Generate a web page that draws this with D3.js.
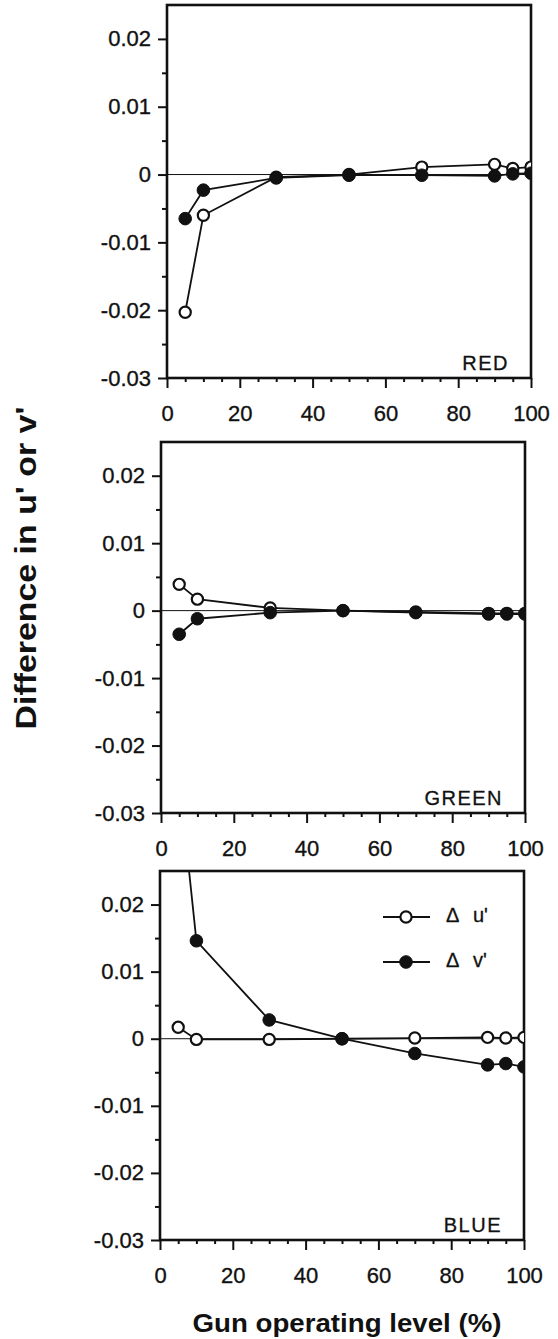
<!DOCTYPE html>
<html>
<head>
<meta charset="utf-8">
<script src="https://cdn.jsdelivr.net/npm/d3@7"></script>
<style>
  html, body { margin: 0; padding: 0; background: #fff; }
  svg { display: block; }
  text { font-family: "Liberation Sans", Arial, Helvetica, sans-serif; fill: #111; }
</style>
</head>
<body>
<svg id="chart" width="558" height="1339"></svg>
<script>
// Gun operating levels (%) at which chromaticity was measured
const levels = [5, 10, 30, 50, 70, 90, 95, 100];

// Difference in u' (open circles) and v' (filled circles) for each gun
const redDeltaU   = [-0.0203, -0.0060, -0.0004, 0.0000, 0.0011, 0.0015, 0.0009, 0.0011];
const redDeltaV   = [-0.0065, -0.0023, -0.0005, -0.0001, -0.0001, -0.0002, 0.0001, 0.0002];
const greenDeltaU = [0.0039, 0.0017, 0.0004, 0.0000, -0.0002, -0.0004, -0.0004, -0.0004];
const greenDeltaV = [-0.0035, -0.0012, -0.0003, 0.0000, -0.0003, -0.0005, -0.0005, -0.0005];
const blueDeltaU  = [0.0017, -0.0001, -0.0001, 0.0000, 0.0001, 0.0002, 0.0001, 0.0002];
const blueDeltaV  = [0.0404, 0.0146, 0.0028, 0.0000, -0.0022, -0.0039, -0.0037, -0.0042];

const panelNames  = ["RED", "GREEN", "BLUE"];
const seriesNames = ["\u0394", "\u0394"];
const seriesPrimes = ["u'", "v'"];

const xTicks = [0, 20, 40, 60, 80, 100];
const xMinorTicks = [5, 10, 15, 25, 30, 35, 45, 50, 55, 65, 70, 75, 85, 90, 95];
const yTicks = [0.02, 0.01, 0, -0.01, -0.02, -0.03];
const yTickLabels = ["0.02", "0.01", "0", "-0.01", "-0.02", "-0.03"];
const yMinorTicks = [0.015, 0.005, -0.005, -0.015, -0.025];
const yDomain = [-0.03, 0.025];

const yTitle = "Difference in u' or v'";
const xTitle = "Gun operating level (%)";

// Panel frames on the page
const frames = [
  { left: 167, right: 531, top: 5,   bottom: 378 },
  { left: 161, right: 525, top: 442, bottom: 813 },
  { left: 160, right: 524, top: 871, bottom: 1240 }
];

const panelData = [
  [redDeltaU, redDeltaV],
  [greenDeltaU, greenDeltaV],
  [blueDeltaU, blueDeltaV]
];

const svg = d3.select("#chart");

panelData.forEach((series, pi) => {
  const f = frames[pi];
  const x = d3.scaleLinear().domain([0, 100]).range([f.left, f.right]);
  const y = d3.scaleLinear().domain(yDomain).range([f.bottom, f.top]);
  const g = svg.append("g").attr("class", "panel");

  const clipId = "clip" + pi;
  svg.append("clipPath").attr("id", clipId)
    .append("rect")
    .attr("x", f.left).attr("y", f.top)
    .attr("width", f.right - f.left).attr("height", f.bottom - f.top);

  // zero reference line
  g.append("line")
    .attr("x1", x(0)).attr("x2", x(100))
    .attr("y1", y(0)).attr("y2", y(0))
    .attr("stroke", "#111").attr("stroke-width", 1);

  // y axis: major and minor ticks
  const yAxis = d3.axisLeft(y).tickValues(yTicks)
    .tickFormat((d, i) => yTickLabels[i]).tickSize(9).tickPadding(7);
  const ya = g.append("g").attr("transform", `translate(${f.left},0)`).call(yAxis);
  const yMinor = g.append("g").attr("transform", `translate(${f.left},0)`)
    .call(d3.axisLeft(y).tickValues(yMinorTicks).tickSize(5).tickFormat(""));

  // x axis: major and minor ticks
  const xAxis = d3.axisBottom(x).tickValues(xTicks).tickSize(10).tickPadding(17);
  const xa = g.append("g").attr("transform", `translate(0,${f.bottom})`).call(xAxis);
  const xMinor = g.append("g").attr("transform", `translate(0,${f.bottom})`)
    .call(d3.axisBottom(x).tickValues(xMinorTicks).tickSize(4).tickFormat(""));

  [ya, yMinor, xa, xMinor].forEach(a => {
    a.select(".domain").remove();
    a.selectAll(".tick line").attr("stroke", "#111").attr("stroke-width", 2);
    a.selectAll(".tick text")
      .attr("font-family", "Liberation Sans, Arial, sans-serif")
      .attr("font-size", 22).attr("fill", "#111")
      .attr("stroke", "#111").attr("stroke-width", 0.35);
  });

  // frame
  g.append("rect")
    .attr("x", f.left).attr("y", f.top)
    .attr("width", f.right - f.left).attr("height", f.bottom - f.top)
    .attr("fill", "none").attr("stroke", "#111").attr("stroke-width", 2.6);

  // data: open circles for u', filled for v'
  const line = d3.line().x((d, i) => x(levels[i])).y(d => y(d));
  const plot = g.append("g").attr("clip-path", `url(#${clipId})`);
  series.forEach((vals, si) => {
    plot.append("path")
      .datum(vals)
      .attr("d", line)
      .attr("fill", "none").attr("stroke", "#111").attr("stroke-width", 1.8);
    plot.selectAll(null)
      .data(vals)
      .join("circle")
      .attr("cx", (d, i) => x(levels[i]))
      .attr("cy", d => y(d))
      .attr("r", si === 0 ? 5.6 : 6.3)
      .attr("fill", si === 0 ? "#fff" : "#111")
      .attr("stroke", "#111").attr("stroke-width", si === 0 ? 2.2 : 1);
  });

  // panel name
  g.append("text")
    .attr("x", f.right - 22).attr("y", f.bottom - 8)
    .attr("text-anchor", "end")
    .attr("font-size", 20).attr("letter-spacing", 1.5)
    .attr("stroke", "#111").attr("stroke-width", 0.3)
    .text(panelNames[pi]);

  // legend in the last panel
  if (pi === 2) {
    seriesNames.forEach((name, si) => {
      const ly = f.top + 46 + si * 45;
      const lg = g.append("g");
      lg.append("line")
        .attr("x1", f.right - 141).attr("x2", f.right - 94)
        .attr("y1", ly).attr("y2", ly)
        .attr("stroke", "#111").attr("stroke-width", 2);
      lg.append("circle")
        .attr("cx", f.right - 118).attr("cy", ly)
        .attr("r", si === 0 ? 5.6 : 6.3)
        .attr("fill", si === 0 ? "#fff" : "#111")
        .attr("stroke", "#111").attr("stroke-width", si === 0 ? 2.2 : 1);
      const t = lg.append("text")
        .attr("x", f.right - 78).attr("y", ly + 5)
        .attr("font-size", 20)
        .attr("stroke", "#111").attr("stroke-width", 0.3);
      t.append("tspan").text(name);
      t.append("tspan").attr("x", f.right - 51).text(seriesPrimes[si]);
    });
  }
});

// axis titles
svg.append("text")
  .attr("transform", "translate(36,568) rotate(-90)")
  .attr("text-anchor", "middle")
  .attr("font-weight", "bold").attr("font-size", 29)
  .attr("textLength", 323).attr("lengthAdjust", "spacingAndGlyphs")
  .text(yTitle);

svg.append("text")
  .attr("x", 347).attr("y", 1332)
  .attr("text-anchor", "middle")
  .attr("font-weight", "bold").attr("font-size", 25)
  .attr("textLength", 309).attr("lengthAdjust", "spacingAndGlyphs")
  .text(xTitle);
</script>
</body>
</html>
